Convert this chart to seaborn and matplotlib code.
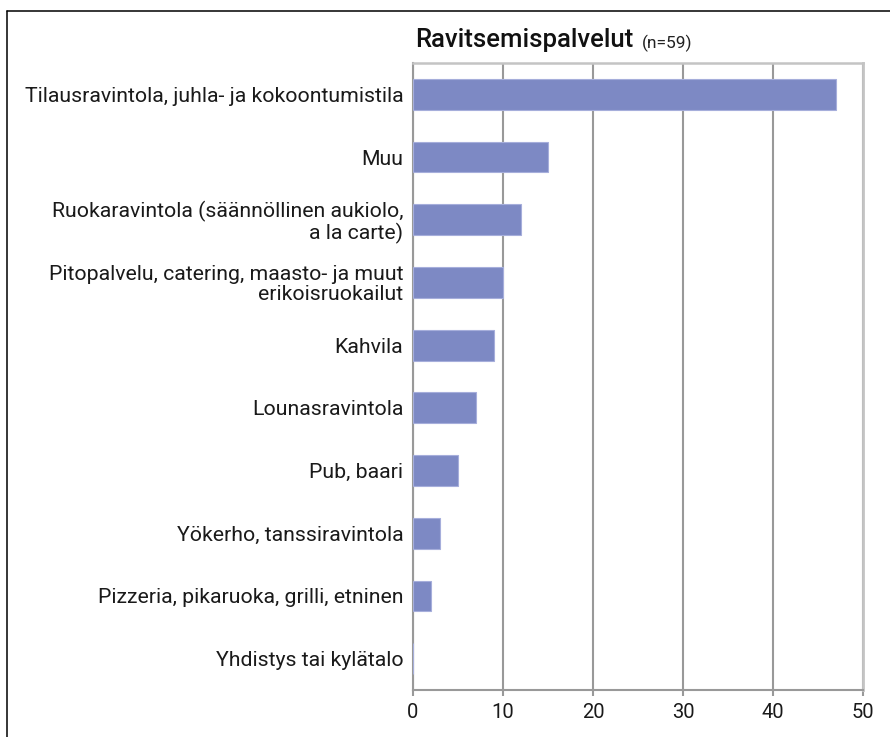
import matplotlib
matplotlib.use("Agg")
import matplotlib.pyplot as plt
import seaborn as sns
import pandas as pd
from matplotlib.lines import Line2D

categories = [
    "Tilausravintola, juhla- ja kokoontumistila",
    "Muu",
    "Ruokaravintola (säännöllinen aukiolo,\na la carte)",
    "Pitopalvelu, catering, maasto- ja muut\nerikoisruokailut",
    "Kahvila",
    "Lounasravintola",
    "Pub, baari",
    "Yökerho, tanssiravintola",
    "Pizzeria, pikaruoka, grilli, etninen",
    "Yhdistys tai kylätalo",
]
values = [47, 15, 12, 10, 9, 7, 5, 3, 2, 0]
xticks = [0, 10, 20, 30, 40, 50]
title_main = "Ravitsemispalvelut"
title_n = "(n=59)"

sns.set_theme(style="white")
plt.rcParams["font.family"] = ["Roboto", "DejaVu Sans"]

df = pd.DataFrame({"cat": categories, "val": values})

fig = plt.figure(figsize=(8.9, 7.37), dpi=100)
ax = fig.add_axes([413/890, 1-690/737, (863-413)/890, (690-63)/737])

sns.barplot(data=df, x="val", y="cat", orient="h", color="#7d89c4",
            width=0.49, ax=ax, saturation=1, linewidth=0.8, edgecolor="#a6aedb",
            zorder=3)

ax.set_xlim(0, 50)
ax.set_xticks(xticks)
ax.set_xticklabels([str(t) for t in xticks], fontsize=14.5, color="#1a1a1a")
ax.set_ylabel("")
ax.set_xlabel("")
ax.tick_params(axis="y", length=0, pad=7, labelsize=15.3, labelcolor="#1a1a1a")
ax.tick_params(axis="x", length=4, width=1.5, color="#999999", pad=5, bottom=True)
for lab in ax.get_yticklabels():
    lab.set_horizontalalignment("right")
    lab.set_multialignment("right")
    lab.set_linespacing(1.05)
ax.xaxis.grid(True, color="#999999", linewidth=1.5, zorder=0)
ax.set_axisbelow(True)
ax.spines["left"].set_color("#999999")
ax.spines["left"].set_linewidth(1.5)
ax.spines["bottom"].set_color("#999999")
ax.spines["bottom"].set_linewidth(1.5)
ax.spines["top"].set_color("#c4c4c4")
ax.spines["top"].set_linewidth(1.8)
ax.spines["right"].set_color("#c4c4c4")
ax.spines["right"].set_linewidth(2.0)
for s in ax.spines.values():
    s.set_visible(True)

t = fig.text(415/890, 1-47/737, title_main, fontsize=18.5, color="#111111",
             ha="left", va="baseline", fontweight="medium")
ax.annotate(title_n, xy=(1, 0), xycoords=t, xytext=(6, 0),
            textcoords="offset points", fontsize=12.5, color="#222222",
            ha="left", va="bottom")

# outer frame (left and top)
fig.add_artist(Line2D([7/890, 7/890], [0, 1-11/737], transform=fig.transFigure,
                      color="black", linewidth=1.1))
fig.add_artist(Line2D([7/890, 1], [1-11/737, 1-11/737], transform=fig.transFigure,
                      color="black", linewidth=1.1))

fig.savefig("out.png", dpi=100)
